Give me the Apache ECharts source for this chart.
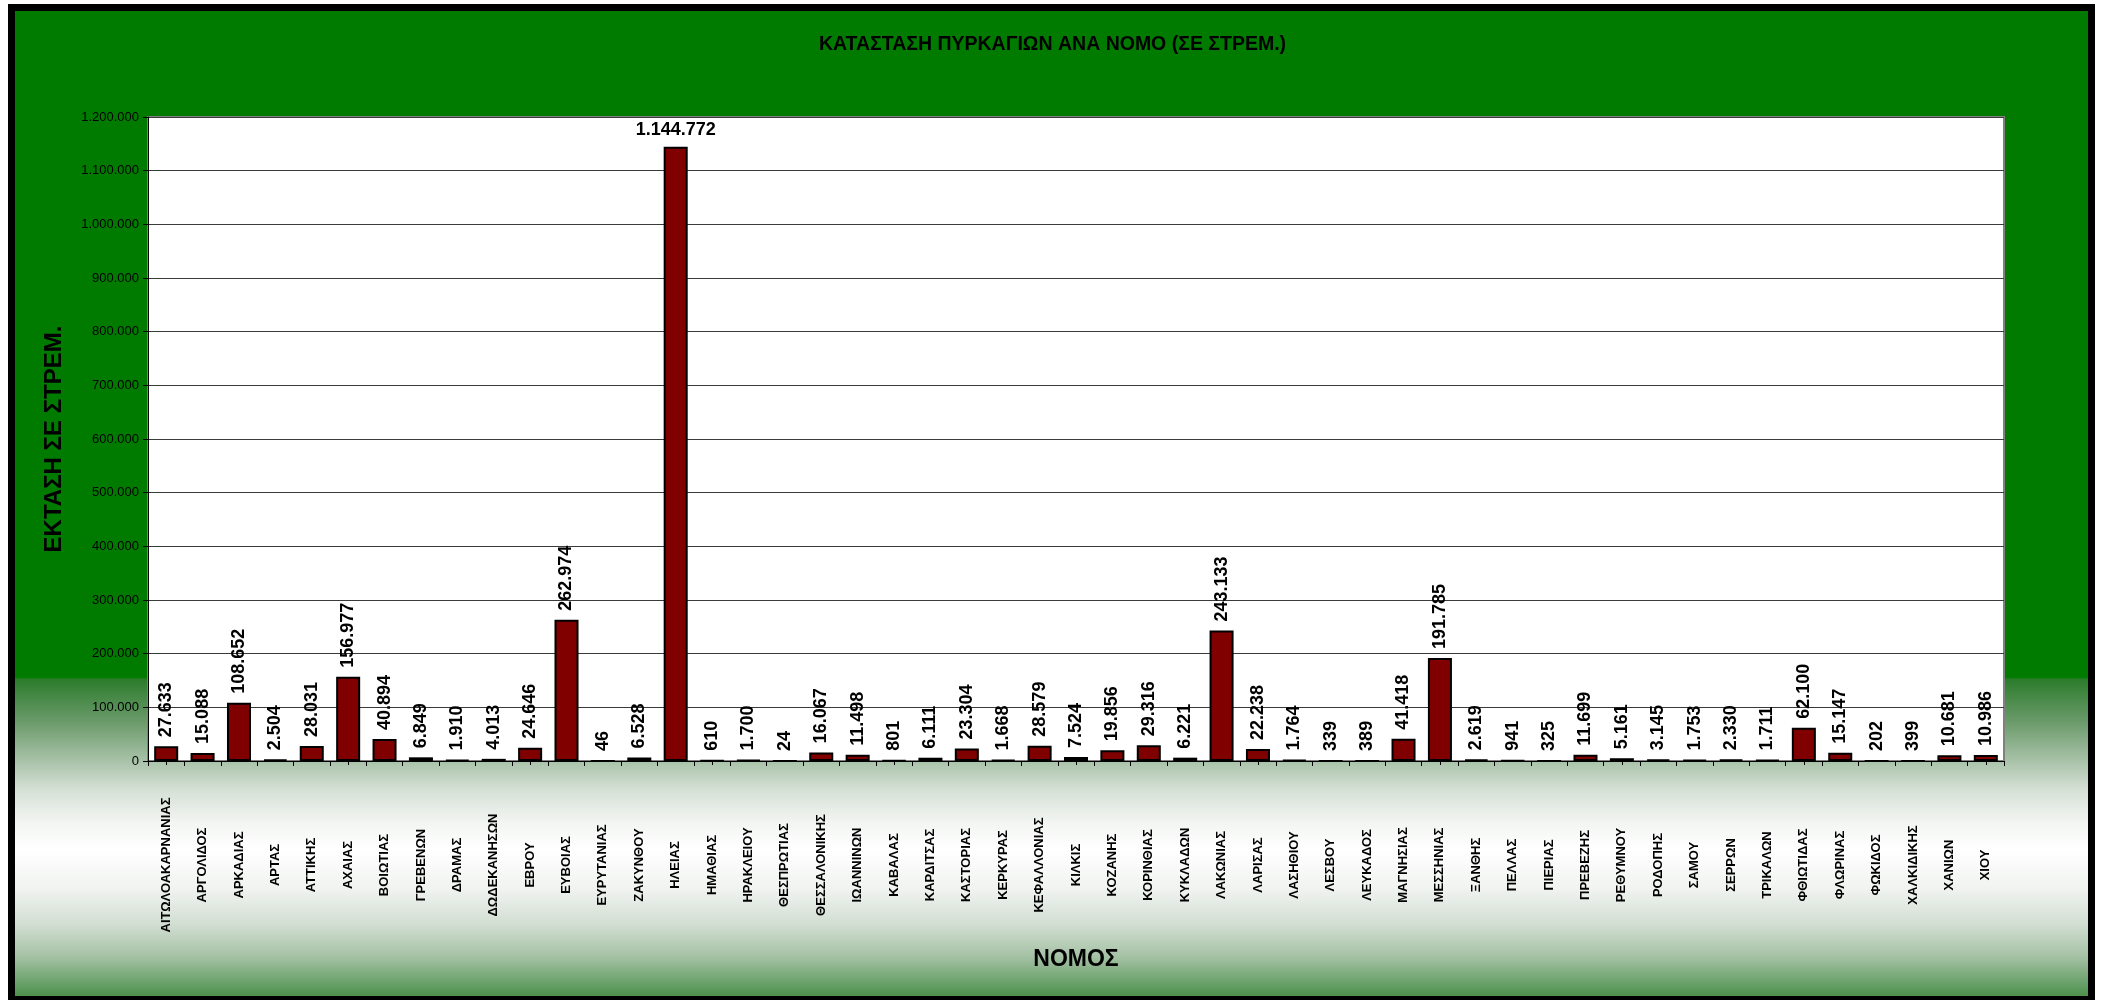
<!DOCTYPE html>
<html><head><meta charset="utf-8">
<script src="https://cdn.jsdelivr.net/npm/echarts@6/dist/echarts.min.js"></script>
<style>html,body{margin:0;padding:0;background:#fff;}#c{width:2105px;height:1000px;}</style>
</head><body><div id="c"></div>
<script>
const titleText = 'ΚΑΤΑΣΤΑΣΗ ΠΥΡΚΑΓΙΩΝ ΑΝΑ ΝΟΜΟ (ΣΕ ΣΤΡΕΜ.)';
const xAxisTitle = 'ΝΟΜΟΣ';
const yAxisTitle = 'ΕΚΤΑΣΗ ΣΕ ΣΤΡΕΜ.';
const categories = ['ΑΙΤΩΛΟΑΚΑΡΝΑΝΙΑΣ','ΑΡΓΟΛΙΔΟΣ','ΑΡΚΑΔΙΑΣ','ΑΡΤΑΣ','ΑΤΤΙΚΗΣ','ΑΧΑΙΑΣ','ΒΟΙΩΤΙΑΣ','ΓΡΕΒΕΝΩΝ','ΔΡΑΜΑΣ','ΔΩΔΕΚΑΝΗΣΩΝ','ΕΒΡΟΥ','ΕΥΒΟΙΑΣ','ΕΥΡΥΤΑΝΙΑΣ','ΖΑΚΥΝΘΟΥ','ΗΛΕΙΑΣ','ΗΜΑΘΙΑΣ','ΗΡΑΚΛΕΙΟΥ','ΘΕΣΠΡΩΤΙΑΣ','ΘΕΣΣΑΛΟΝΙΚΗΣ','ΙΩΑΝΝΙΝΩΝ','ΚΑΒΑΛΑΣ','ΚΑΡΔΙΤΣΑΣ','ΚΑΣΤΟΡΙΑΣ','ΚΕΡΚΥΡΑΣ','ΚΕΦΑΛΛΟΝΙΑΣ','ΚΙΛΚΙΣ','ΚΟΖΑΝΗΣ','ΚΟΡΙΝΘΙΑΣ','ΚΥΚΛΑΔΩΝ','ΛΑΚΩΝΙΑΣ','ΛΑΡΙΣΑΣ','ΛΑΣΗΘΙΟΥ','ΛΕΣΒΟΥ','ΛΕΥΚΑΔΟΣ','ΜΑΓΝΗΣΙΑΣ','ΜΕΣΣΗΝΙΑΣ','ΞΑΝΘΗΣ','ΠΕΛΛΑΣ','ΠΙΕΡΙΑΣ','ΠΡΕΒΕΖΗΣ','ΡΕΘΥΜΝΟΥ','ΡΟΔΟΠΗΣ','ΣΑΜΟΥ','ΣΕΡΡΩΝ','ΤΡΙΚΑΛΩΝ','ΦΘΙΩΤΙΔΑΣ','ΦΛΩΡΙΝΑΣ','ΦΩΚΙΔΟΣ','ΧΑΛΚΙΔΙΚΗΣ','ΧΑΝΙΩΝ','ΧΙΟΥ'];
const values = [27633,15088,108652,2504,28031,156977,40894,6849,1910,4013,24646,262974,46,6528,1144772,610,1700,24,16067,11498,801,6111,23304,1668,28579,7524,19856,29316,6221,243133,22238,1764,339,389,41418,191785,2619,941,325,11699,5161,3145,1753,2330,1711,62100,15147,202,399,10681,10986];
const yMin = 0, yMax = 1200000, yInterval = 100000;

const FONT = 'Arial, "Liberation Sans", sans-serif';
function fmt(v){ return String(v).replace(/\B(?=(\d{3})+(?!\d))/g, '.'); }
const maxV = Math.max.apply(null, values);

const chart = echarts.init(document.getElementById('c'), null, {renderer:'canvas'});
chart.setOption({
  animation: false,
  backgroundColor: '#ffffff',
  textStyle: {fontFamily: FONT},
  graphic: [{
    type: 'rect', z: -10, silent: true,
    shape: {x: 11.5, y: 7.5, width: 2080, height: 992},
    style: {
      lineWidth: 7, stroke: '#000',
      fill: {type:'linear', x:0, y:0, x2:0, y2:1, colorStops:[
        {offset:0, color:'#007b00'},
        {offset:0.674, color:'#007b00'},
        {offset:0.676, color:'#2c7c2c'},
        {offset:0.718, color:'#6a9a6a'},
        {offset:0.758, color:'#a9c2a9'},
        {offset:0.786, color:'#d5e0d5'},
        {offset:0.819, color:'#f2f5f2'},
        {offset:0.846, color:'#ffffff'},
        {offset:0.886, color:'#f0f3f0'},
        {offset:0.920, color:'#d3dfd3'},
        {offset:0.953, color:'#a6c2a6'},
        {offset:0.987, color:'#5a985a'},
        {offset:1, color:'#3f8a3f'}
      ]}
    }
  }],
  title: {
    text: titleText, left: 'center', top: 30,
    textStyle: {fontSize: 19.5, fontWeight: 'bold', color: '#000', fontFamily: FONT}
  },
  grid: {left:148, top:117, width:1856, height:644, show:true, backgroundColor:'#ffffff', borderColor:'#808080', borderWidth:2},
  xAxis: [{
    type: 'category', data: categories, position: 'bottom',
    axisLine: {lineStyle: {color:'#000', width:1}},
    axisTick: {show:true, length:5, lineStyle:{color:'#000'}},
    axisLabel: {interval:0, rotate:90, align:'center', verticalAlign:'middle', margin:104, fontSize:13, fontWeight:'bold', color:'#000', fontFamily: FONT},
    splitLine: {show:false},
    name: xAxisTitle, nameLocation:'middle', nameGap:187,
    nameTextStyle: {fontSize:23, fontWeight:'bold', color:'#000', fontFamily: FONT}
  },{
    type: 'category', data: categories, position: 'bottom',
    axisLine: {show:false},
    axisTick: {show:true, alignWithLabel:true, length:4, lineStyle:{color:'#000'}},
    axisLabel: {show:false}, splitLine:{show:false}
  }],
  yAxis: {
    type: 'value', min: yMin, max: yMax, interval: yInterval,
    axisLine: {show:true, lineStyle:{color:'#000', width:1}},
    axisTick: {show:true, length:5, lineStyle:{color:'#000'}},
    axisLabel: {fontSize:13, color:'#000', margin:9, fontFamily: FONT, formatter: v => fmt(v)},
    splitLine: {show:true, lineStyle:{color:'#3a3a3a', width:1}},
    name: yAxisTitle, nameLocation:'middle', nameRotate:90, nameGap:82,
    nameTextStyle: {fontSize:24, fontWeight:'bold', color:'#000', fontFamily: FONT}
  },
  series: [{
    type: 'bar', xAxisIndex: 0,
    data: values.map(v => v === maxV ? {value:v, label:{rotate:0, align:'center', verticalAlign:'bottom', distance:8}} : v),
    barWidth: '66%',
    itemStyle: {color:'#800000', borderColor:'#000', borderWidth:2},
    emphasis: {disabled:true},
    label: {show:true, position:'top', rotate:90, align:'left', verticalAlign:'middle', distance:9,
      fontSize:18, fontWeight:'bold', color:'#000', fontFamily: FONT, formatter: p => fmt(p.value)}
  }]
});
</script></body></html>
